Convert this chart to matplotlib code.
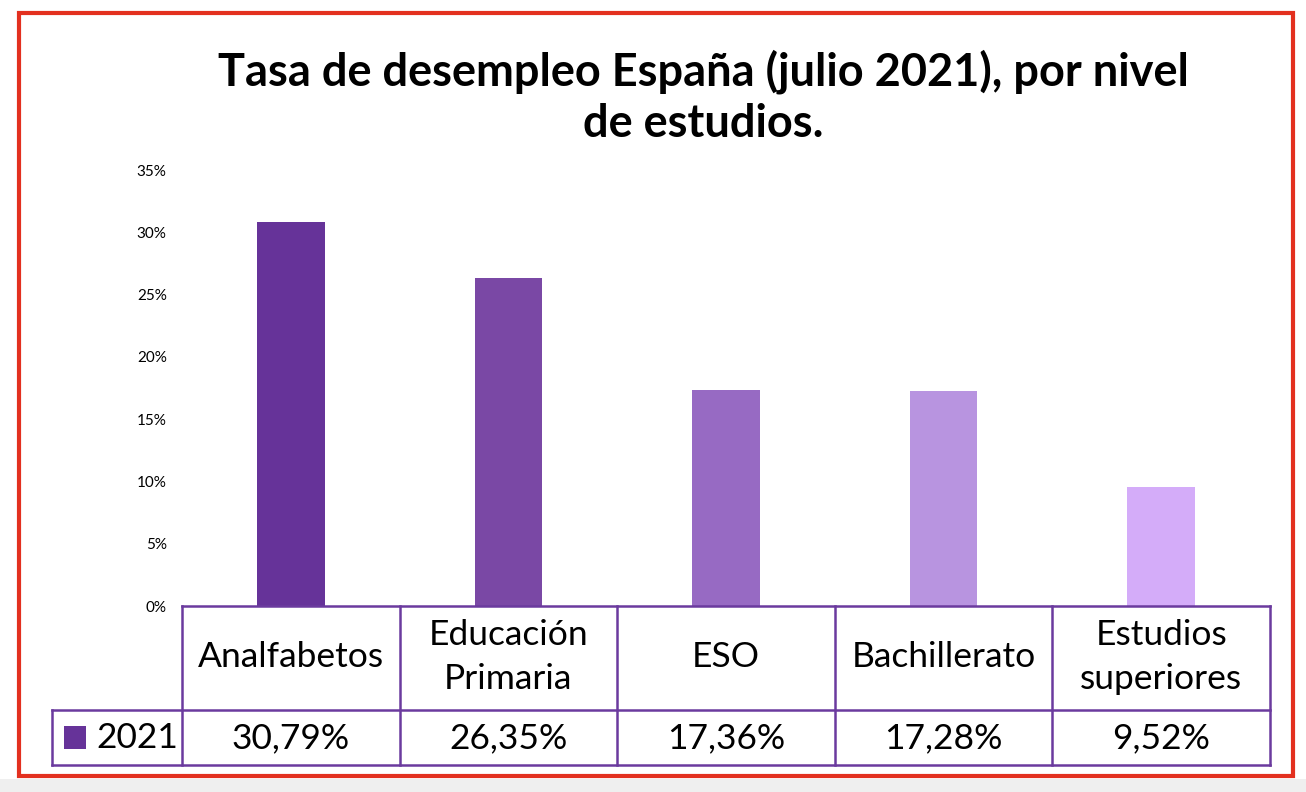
import matplotlib.pyplot as plt
from matplotlib.patches import Rectangle

categories = ["Analfabetos", "Educación\nPrimaria", "ESO", "Bachillerato", "Estudios\nsuperiores"]
values = [30.79, 26.35, 17.36, 17.28, 9.52]
value_labels = ["30,79%", "26,35%", "17,36%", "17,28%", "9,52%"]
series_name = "2021"
yticks = [0, 5, 10, 15, 20, 25, 30, 35]
colors = ["#663399", "#7a48a5", "#976ac3", "#b894e0", "#d4acf9"]
line_color = "#6b3a9e"

W, H = 1306, 792
fig = plt.figure(figsize=(W / 100, H / 100), dpi=100)
fig.patch.set_facecolor("white")


def px(x, y):
    return x / W, 1 - y / H


# grey strip at the very bottom and the red frame
fig.patches.append(Rectangle((0, 0), 1, 1 - 779 / H, transform=fig.transFigure,
                             facecolor="#efefef", edgecolor="none", zorder=0))
x0, y0 = px(19, 776)
x1, y1 = px(1293, 13)
fig.patches.append(Rectangle((x0, y0), x1 - x0, y1 - y0, transform=fig.transFigure,
                             facecolor="none", edgecolor="#e3301f", linewidth=3, zorder=5))

# bar axes
left, bottom = px(182, 606)
right, top = px(1270, 170)
ax = fig.add_axes([left, bottom, right - left, top - bottom])
ax.set_facecolor("none")
xs = list(range(len(categories)))
ax.bar(xs, values, width=0.31, color=colors, zorder=2)
ax.set_xlim(-0.5, len(categories) - 0.5)
ax.set_ylim(0, 35)
ax.set_yticks(yticks)
ax.set_yticklabels([f"{t}%" for t in yticks], fontsize=11, family="Lato")
ax.tick_params(axis="y", length=0, pad=11)
ax.set_xticks([])
for s in ax.spines.values():
    s.set_visible(False)

# table under the bars
col_w = 217.6
xl = -0.5 - 130 / col_w
tab = fig.add_axes([px(52, 766)[0], px(52, 766)[1], (1270 - 52) / W, (766 - 606) / H])
tab.set_xlim(xl, len(categories) - 0.5)
tab.set_ylim(766, 606)
tab.axis("off")
lw = 1.8
xr = len(categories) - 0.5
tab.plot([-0.5, xr], [606, 606], color=line_color, lw=lw, clip_on=False)
tab.plot([xl, xr], [710, 710], color=line_color, lw=lw, clip_on=False)
tab.plot([xl, xr], [765, 765], color=line_color, lw=lw, clip_on=False)
tab.plot([xl, xl], [710, 765], color=line_color, lw=lw, clip_on=False)
for i in range(len(categories) + 1):
    tab.plot([i - 0.5, i - 0.5], [606, 765], color=line_color, lw=lw, clip_on=False)

for i, (cat, lab) in enumerate(zip(categories, value_labels)):
    tab.text(i, 657, cat, ha="center", va="center", fontsize=25.5, family="Lato",
             linespacing=1.45)
    tab.text(i, 738, lab, ha="center", va="center", fontsize=25.5, family="Lato")

tab.add_patch(Rectangle((xl + 12 / col_w, 726), 22 / col_w, 23,
                        facecolor=colors[0], edgecolor="none"))
tab.text(xl + 44 / col_w, 738, series_name, ha="left", va="center", fontsize=25.5,
         family="Lato")

# title
tx, ty = px(703, 97)
fig.text(tx, ty, "Tasa de desempleo España (julio 2021), por nivel\nde estudios.",
         ha="center", va="center", fontsize=32.5, fontweight="bold", family="Lato",
         linespacing=1.28)

fig.savefig("out.png", dpi=100)
